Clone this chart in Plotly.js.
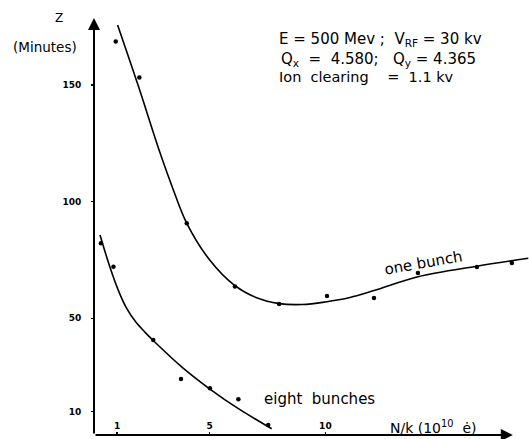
<!DOCTYPE html>
<html>
<head>
<meta charset="utf-8">
<script src="https://cdn.plot.ly/plotly-3.0.1.min.js"></script>
<style>html,body{margin:0;padding:0;background:#fff;}#chart{width:529px;height:439px;}</style>
</head>
<body>
<div id="chart"></div>
<script>
// Measured points
var oneBunchX = [0.94, 1.96, 4.01, 6.09, 8.0, 10.07, 12.1, 14.0, 16.55, 18.06];
var oneBunchY = [168.6, 153.2, 90.7, 63.6, 56.1, 59.6, 58.7, 69.4, 72.0, 73.7];
var eightBunchX = [0.30, 0.84, 2.56, 3.76, 5.01, 6.24, 7.53];
var eightBunchY = [82.2, 72.1, 40.7, 24.0, 20.0, 15.3, 4.3];
// Hand-drawn fit curves
var oneCurveX = [1.02, 1.91, 2.85, 3.43, 4.01, 5.0, 6.09, 7.03, 8.0, 9.0, 10.0, 11.06, 12.14, 14.0, 16.54, 18.77];
var oneCurveY = [175.7, 149.7, 121.0, 105.0, 90.7, 75.0, 64.0, 58.8, 56.3, 55.9, 57.0, 58.9, 62.0, 67.8, 72.3, 75.7];
var eightCurveX = [0.26, 0.69, 1.10, 1.40, 1.80, 2.20, 2.56, 3.80, 5.01, 6.24, 7.68];
var eightCurveY = [85.7, 71.9, 60.8, 54.5, 48.5, 44.1, 40.5, 29.1, 19.7, 11.3, 2.7];
// Ticks
var xTickVals = [1, 5, 10];
var xTickText = ['1', '5', '10'];
var yTickVals = [10, 50, 100, 150];
var yTickText = ['10', '50', '100', '150'];

var FONT = 'DejaVu Sans, Liberation Sans, sans-serif';
var black = '#000';

var traces = [
  {x: oneCurveX, y: oneCurveY, mode: 'lines', line: {color: black, width: 1.6, shape: 'spline', smoothing: 1}, hoverinfo: 'skip'},
  {x: eightCurveX, y: eightCurveY, mode: 'lines', line: {color: black, width: 1.6, shape: 'spline', smoothing: 1}, hoverinfo: 'skip'},
  {x: oneBunchX, y: oneBunchY, mode: 'markers', marker: {color: black, size: 4.5}},
  {x: eightBunchX, y: eightBunchY, mode: 'markers', marker: {color: black, size: 4.5}}
];

function txt(x, y, text, size, opts) {
  var a = {x: x, y: y, xref: 'x', yref: 'y', text: text, showarrow: false,
           font: {family: FONT, size: size, color: black}, xanchor: 'left', yanchor: 'middle'};
  for (var k in (opts || {})) a[k] = opts[k];
  return a;
}

var annotations = [
  // axis arrows
  {x: 0, y: 178.7, ax: 0, ay: 0, xref: 'x', yref: 'y', axref: 'x', ayref: 'y', text: '', showarrow: true,
   arrowhead: 2, arrowsize: 1.2, arrowwidth: 2, arrowcolor: black},
  {x: 18.1, y: 0, ax: 0, ay: 0, xref: 'x', yref: 'y', axref: 'x', ayref: 'y', text: '', showarrow: true,
   arrowhead: 2, arrowsize: 1.2, arrowwidth: 2, arrowcolor: black},
  txt(-0.08, 0.981, 'Z', 12, {xref: 'paper', yref: 'paper', xanchor: 'center'}),
  txt(-0.1126, 0.913, '(Minutes)', 13.5, {xref: 'paper', yref: 'paper', xanchor: 'center'}),
  txt(7.91, 169.3, 'E = 500 Mev ;  V<sub>RF</sub> = 30 kv', 15),
  txt(8.0, 160.7, 'Q<sub>x</sub>  =  4.580;   Q<sub>y</sub> = 4.365', 15),
  txt(7.91, 153.4, 'Ion  clearing    =  1.1 kv', 14.5),
  txt(14.22, 73.6, 'one bunch', 15, {xanchor: 'center', textangle: -10}),
  txt(7.26, 15.4, 'eight  bunches', 15),
  txt(12.7, 3.4, 'N/k (10<sup>10</sup>  ė)', 14)
];

var layout = {
  width: 529, height: 439,
  margin: {l: 94, r: 0, t: 10, b: 4},
  paper_bgcolor: '#fff', plot_bgcolor: '#fff',
  showlegend: false,
  xaxis: {range: [0, 18.8], showgrid: false, zeroline: false, showline: false,
          tickmode: 'array', tickvals: xTickVals, ticktext: xTickText,
          ticks: 'inside', ticklen: 3, tickwidth: 1.5, tickcolor: black,
          ticklabelposition: 'inside', tickfont: {family: FONT, size: 9, color: black, weight: 'bold'}},
  yaxis: {range: [0, 182.1], showgrid: false, zeroline: false, showline: false,
          tickmode: 'array', tickvals: yTickVals, ticktext: yTickText,
          ticks: 'outside', ticklen: 2, tickwidth: 1.5, tickcolor: black, ticklabelstandoff: 8,
          tickfont: {family: FONT, size: 9, color: black, weight: 'bold'}},
  annotations: annotations
};

Plotly.newPlot('chart', traces, layout, {staticPlot: true, displayModeBar: false});
</script>
</body>
</html>
